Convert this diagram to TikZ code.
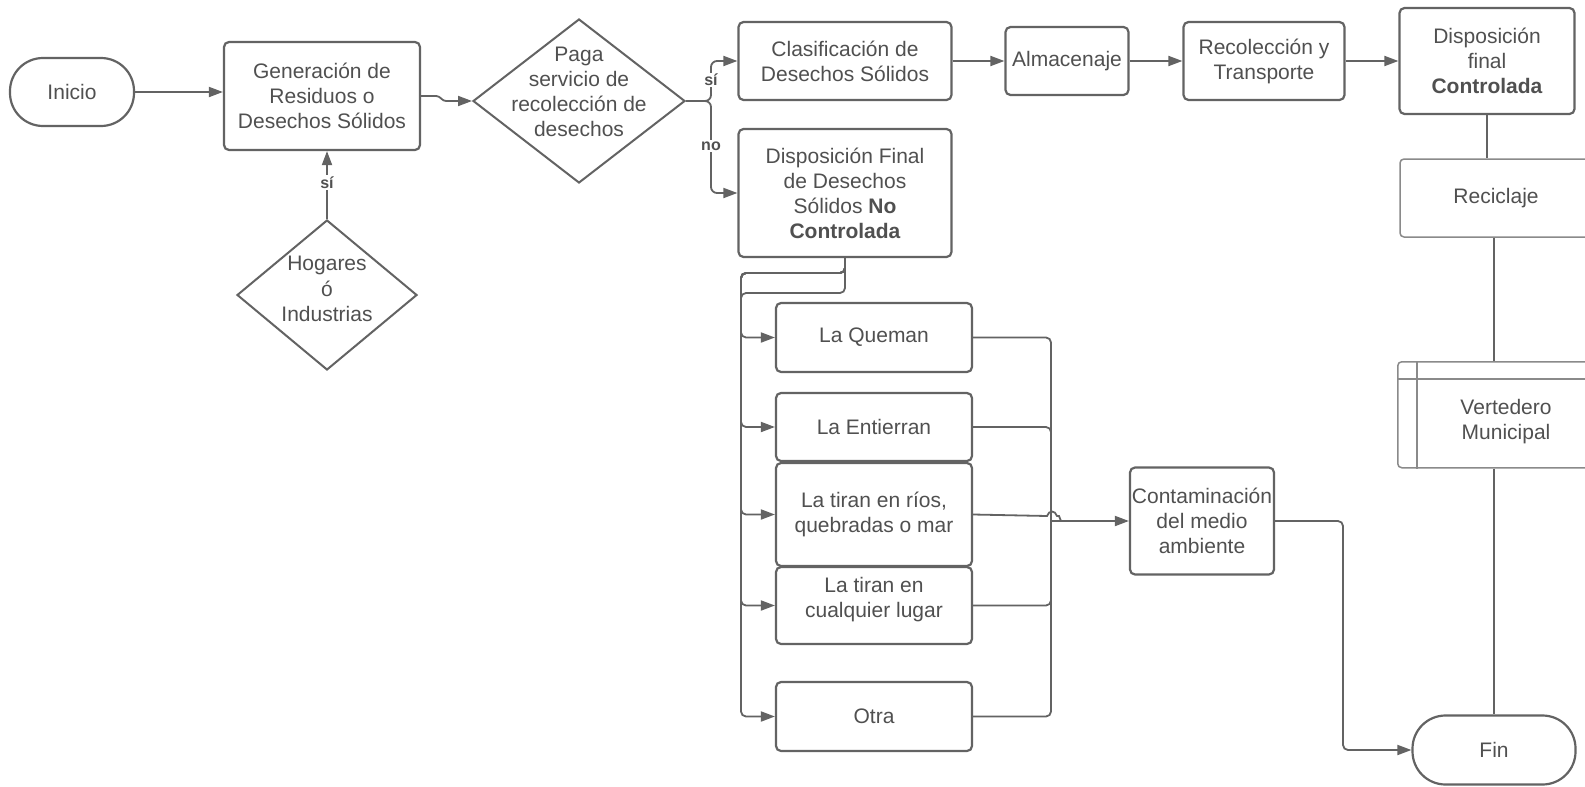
\documentclass[tikz,border=0pt]{standalone}
\usepackage{fontspec}
\setmainfont{Liberation Sans}
\usetikzlibrary{arrows.meta,shapes.geometric,calc}
\definecolor{ln}{HTML}{636363}
\definecolor{lnl}{HTML}{8A8A8A}
\definecolor{tx}{HTML}{505050}
\tikzset{
  every node/.style={text=tx, font=\fontsize{21}{25}\selectfont, align=center, inner sep=0pt},
  blk/.style={draw=ln, line width=2.2pt, rounded corners=5pt, fill=white},
  lblk/.style={draw=lnl, line width=1.5pt, rounded corners=4pt, fill=white},
  term/.style={draw=ln, line width=2.2pt, rounded corners=33pt, fill=white},
  dia/.style={draw=ln, line width=2pt, diamond, inner sep=0pt, fill=white},
  conn/.style={draw=ln, line width=1.8pt},
  arr/.style={conn, -{Triangle[length=14pt,width=10pt]}},
  lbl/.style={fill=white, font=\bfseries\fontsize{16}{18}\selectfont, inner sep=1.5pt},
}
\begin{document}
\begin{tikzpicture}[x=1pt,y=-1pt]
\useasboundingbox (0,0) rectangle (1585,787);
\clip (0,0) rectangle (1585,787);
\fill[white] (0,0) rectangle (1585,787);

% left part
\node[term, minimum width=124pt, minimum height=68pt] (inicio) at (72,92) {Inicio};
\node[blk, minimum width=196pt, minimum height=108pt] (gen) at (322,96) {Generación de\\Residuos o\\Desechos Sólidos};
\node[dia, minimum width=212pt, minimum height=164pt] (paga) at (579,101) {};
\node at (579,92) {Paga\\servicio de\\recolección de\\desechos};
\node[dia, minimum width=180pt, minimum height=150pt] (hog) at (327,295) {};
\node at (327,289) {Hogares\\[1pt]ó\\Industrias};

% top row
\node[blk, minimum width=213pt, minimum height=78pt] (clas) at (845,61) {Clasificación de\\Desechos Sólidos};
\node[blk, minimum width=123pt, minimum height=68pt] (alm) at (1067,61) {Almacenaje};
\node[blk, minimum width=161pt, minimum height=78pt] (rec) at (1264,61) {Recolección y\\Transporte};
\node[blk, minimum width=175pt, minimum height=106pt] (dfc) at (1487,61) {Disposición\\final\\\textbf{Controlada}};
\node[lblk, minimum width=192pt, minimum height=78pt] (recic) at (1496,198) {Reciclaje};
\node[lblk, minimum width=223pt, minimum height=106pt, anchor=north west] (vert) at (1397,361) {};
\draw[lnl, line width=1.5pt] ($(vert.north west)+(20,0)$) -- ($(vert.south west)+(20,0)$);
\draw[lnl, line width=1.5pt] ($(vert.north west)+(0,18)$) -- ($(vert.north east)+(0,18)$);
\node at (1506,422) {Vertedero\\Municipal};
\node[term, minimum width=163pt, minimum height=69pt] (fin) at (1494,750) {Fin};

% no controlada
\node[blk, minimum width=213pt, minimum height=128pt] (dnc) at (845,193) {Disposición Final\\de Desechos\\Sólidos \textbf{No}\\\textbf{Controlada}};
\node[blk, minimum width=196pt, minimum height=69pt] (queman) at (874,337.5) {La Queman};
\node[blk, minimum width=196pt, minimum height=68pt] (entierran) at (874,427) {La Entierran};
\node[blk, minimum width=196pt, minimum height=103pt] (rios) at (874,514.5) {La tiran en ríos,\\quebradas o mar};
\node[blk, minimum width=196pt, minimum height=77pt] (cualq) at (874,605.5) {};
\node at (874,600) {La tiran en\\cualquier lugar};
\node[blk, minimum width=196pt, minimum height=69pt] (otra) at (874,716.5) {Otra};
\node[blk, minimum width=144pt, minimum height=107pt] (cont) at (1202,521) {};
\node at (1202,521) {Contaminación\\del medio\\ambiente};

% connectors
\draw[arr] (inicio.east) -- (inicio.east -| gen.west);
\draw[arr, rounded corners=3pt] (gen.east) -- ++(18,0) -- ++(4,5) -- (paga.west);
\draw[arr] (hog.north) -- node[lbl, pos=0.54] {sí} (hog.north |- gen.south);

\coordinate (pb) at (711,101);
\draw[arr, rounded corners=6pt] (paga.east) -- (pb) |- (clas.west);
\draw[arr, rounded corners=6pt] (paga.east) -- (pb) |- (dnc.west);
\node[lbl] at (711,80) {sí};
\node[lbl] at (711,146) {no};

\draw[arr] (clas.east) -- (alm.west);
\draw[arr] (alm.east) -- (rec.west);
\draw[arr] (rec.east) -- (dfc.west);
\draw[conn] (dfc.south) -- (dfc.south |- recic.north);
\draw[conn] (fin.north |- recic.south) -- (fin.north |- vert.north);
\draw[conn] (fin.north |- vert.south) -- (fin.north);

\coordinate (t1) at (741,273);
\coordinate (t2) at (741,293);
\draw[conn, rounded corners=5pt] (dnc.south) |- (t2) -- ++(0,20);
\foreach \n in {queman,entierran,rios,cualq,otra}
  \draw[arr, rounded corners=5pt] (dnc.south) |- (t1) |- (\n.west);

\coordinate (m) at (1051,521);
\foreach \n in {queman,entierran,cualq,otra}
  \draw[conn, rounded corners=5pt] (\n.east) -| (m);
\draw[conn] (rios.east) -- (1047,516) .. controls (1049,510) and (1055,510) .. (1057,516) -- (1059,516) -- (1061,521);
\draw[arr] (m) -- (cont.west);

\coordinate (k) at (1343,750);
\draw[arr, rounded corners=5pt] (cont.east) -| (k) -- (fin.west);
\end{tikzpicture}
\end{document}
